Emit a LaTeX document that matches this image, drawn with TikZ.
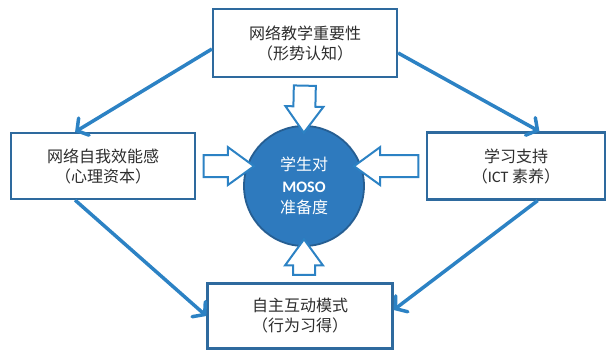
\documentclass[tikz,border=0pt]{standalone}
\usepackage{fontspec}
\setmainfont{Noto Sans CJK SC}
\newfontfamily\latinfont{Carlito}
\usetikzlibrary{calc,shapes.arrows,arrows.meta}
\definecolor{boxblue}{RGB}{46,106,158}
\definecolor{lineblue}{RGB}{44,130,196}
\definecolor{circfill}{RGB}{46,122,190}
\definecolor{circdraw}{RGB}{38,94,146}
\definecolor{textgray}{RGB}{45,45,45}
% #1 = from, #2 = to
\newcommand*{\HollowArrow}[2]{%
  \path let \p1=(#1), \p2=(#2), \n1={atan2(\y2-\y1,\x2-\x1)},
    \n2={veclen(\x2-\x1,\y2-\y1)} in
    node [hollow, rotate=\n1, minimum height=\n2] at ($(#1)!0.5!(#2)$) {};%
}

\begin{document}
\begin{tikzpicture}[x=1pt,y=-1pt,
    box/.style={draw=boxblue, line width=2.2pt, fill=white, align=center,
      text=textgray, font=\fontsize{16}{20}\selectfont},
    hollow/.style={single arrow, draw=lineblue, line width=2pt, fill=white,
      inner xsep=0pt, inner ysep=10pt, single arrow head extend=8pt,
      single arrow tip angle=72},
    link/.style={draw=lineblue, line width=3.5pt,
      -{Straight Barb[length=8pt,width=20pt,line cap=round]}}]
    \useasboundingbox (0,0) rectangle (610,350);

    \node [box, minimum width=184pt, minimum height=68pt] (top) at (305,43)
      {网络教学重要性\\（形势认知）};
    \node [box, minimum width=184pt, minimum height=66pt] (left) at (103,166)
      {网络自我效能感\\（心理资本）};
    \node [box, minimum width=178pt, minimum height=67pt] (right) at (516,166)
      {学习支持\\（{\latinfont ICT} 素养）};
    \node [box, minimum width=185pt, minimum height=65pt] (bottom) at (300,316)
      {自主互动模式\\（行为习得）};
    \node [circle, draw=circdraw, line width=1.8pt, fill=circfill,
      minimum size=120pt, text=white, align=center,
      font=\fontsize{16}{21.5}\selectfont] (center) at (304,186)
      {学生对\\{\latinfont\bfseries MOSO}\\准备度};

    \HollowArrow{top.south}{center.north}
    \HollowArrow{left.east}{center.161}
    \HollowArrow{right.west}{center.19}
    \HollowArrow{center.south |- bottom.north}{center.south}

    \draw [link] ([yshift=-6pt]top.west) -- ($(left.north west)!0.35!(left.north east)$);
    \draw [link] ([yshift=-10pt]top.east) -- ($(right.north west)!0.63!(right.north east)$);
    \draw [link] ($(left.south west)!0.35!(left.south east)$) -- (bottom.west);
    \draw [link] ($(right.south west)!0.62!(right.south east)$) -- ([yshift=6pt]bottom.east);
\end{tikzpicture}
\end{document}
